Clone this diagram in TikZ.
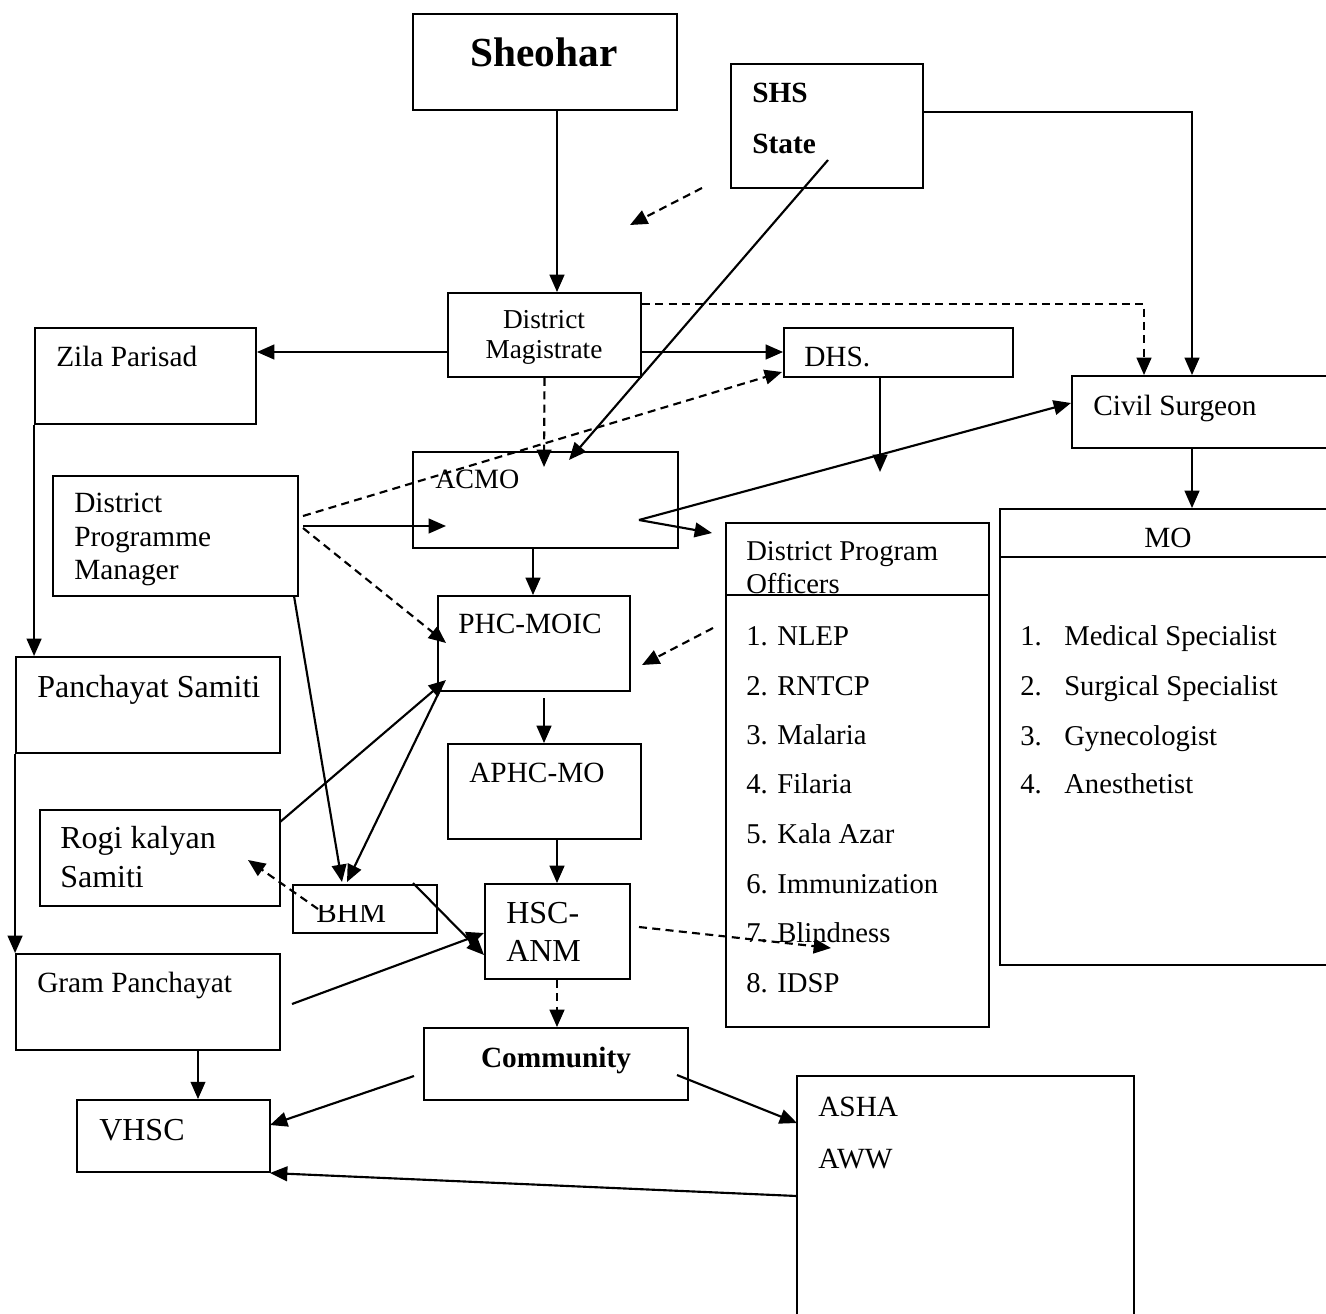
\documentclass[tikz,border=0pt]{standalone}
\usepackage{fontspec}
\setmainfont{Liberation Serif}
\usetikzlibrary{arrows.meta,fit}
\begin{document}
\begin{tikzpicture}[x=0.75pt,y=-0.75pt,
  box/.style={draw, line width=1.4pt, inner sep=0pt, rectangle},
  arr/.style={line width=1.6pt, -{Triangle[length=13pt,width=11pt]}},
  darr/.style={arr, dash pattern=on 6pt off 4pt},
  plain/.style={line width=1.4pt},
  txt/.style={anchor=base west, inner sep=0pt, font=\fontsize{22}{26}\selectfont},
  txtl/.style={txt, font=\fontsize{24}{28}\selectfont},
  txts/.style={txt, font=\fontsize{21.5}{25}\selectfont},
  txtb/.style={txt, font=\bfseries\fontsize{22}{26}\selectfont}
]
\useasboundingbox (0,0) rectangle (1326,1313);
\clip (0,0) rectangle (1326,1313);

% ---------- boxes ----------
\node[box, fit={(413,14) (677,110)}] (sheohar) {};
\node[box, fit={(731,64) (923,188)}] (shs) {};
\node[box, fit={(448,293) (641,377)}] (dm) {};
\node[box, fit={(35,328) (256,424)}] (zila) {};
\node[box, fit={(784,328) (1013,377)}] (dhs) {};
\node[box, fit={(1072,376) (1345,448)}] (civil) {};
\node[box, fit={(413,452) (678,548)}] (acmo) {};
\node[box, fit={(53,476) (298,596)}] (dpm) {};
\node[box, fit={(726,523) (989,1027)}] (dpo) {};
\node[box, fit={(1000,509) (1345,965)}] (mo) {};
\node[box, fit={(438,596) (630,691)}] (phc) {};
\node[box, fit={(16,657) (280,753)}] (ps) {};
\node[box, fit={(448,744) (641,839)}] (aphc) {};
\node[box, fit={(40,810) (280,906)}] (rogi) {};
\node[box, fit={(293,885) (437,933)}] (bhm) {};
\node[box, fit={(485,884) (630,979)}] (hsc) {};
\node[box, fit={(16,954) (280,1050)}] (gp) {};
\node[box, fit={(424,1028) (688,1100)}] (comm) {};
\node[box, fit={(77,1100) (270,1172)}] (vhsc) {};
\node[box, fit={(797,1076) (1134,1335)}] (asha) {};

% header separators
\coordinate (y595) at (0,595);
\coordinate (y557) at (0,557);
\draw[plain] (dpo.west |- y595) -- (dpo.east |- y595);
\draw[plain] (mo.west |- y557) -- (mo.east |- y557);

% ---------- texts ----------
\node[txt, anchor=base, font=\bfseries\fontsize{31}{36}\selectfont] (tsheohar) at (544,66) {Sheohar};
\node[txtb] (tshs) at (752,103) {SHS};
\node[txtb] (tstate) at (752,153) {State};
\node[txt, anchor=base, font=\fontsize{20.5}{24}\selectfont] (tdm1) at (544,328) {District};
\node[txt, anchor=base, font=\fontsize{20.5}{24}\selectfont] (tdm2) at (544,358) {Magistrate};
\node[txt] (tzila) at (56,366) {Zila Parisad};
\node[txt] (tdhs) at (804,366) {DHS.};
\node[txt] (tcivil) at (1093,415) {Civil Surgeon};
\node[txt, font=\fontsize{21}{25}\selectfont] (tacmo) at (435,488) {ACMO};
\node[txt] (tdpm1) at (74,512) {District};
\node[txt] (tdpm2) at (74,546) {Programme};
\node[txt] (tdpm3) at (74,579) {Manager};
\node[txts] (tdpo1) at (746,560) {District Program};
\node[txts] (tdpo2) at (746,593) {Officers};
\node[txt, anchor=base] (tmo) at (1168,547) {MO};
\node[txt] (tphc) at (458,633) {PHC-MOIC};
\node[txt] (taphc) at (469,782) {APHC-MO};
\node[txtl] (tps) at (37,697) {Panchayat Samiti};
\node[txtl] (trogi1) at (60,848) {Rogi kalyan};
\node[txtl] (trogi2) at (60,887) {Samiti};
\begin{scope}
  \clip (293,905) rectangle (437,933);
  \node[txt, font=\fontsize{23}{27}\selectfont] (tbhm) at (316,922) {BHM};
\end{scope}
\node[txtl] (thsc1) at (506,923) {HSC-};
\node[txtl] (thsc2) at (506,961) {ANM};
\node[txt] (tgp) at (37,992) {Gram Panchayat};
\node[txtl] (tvhsc) at (99,1140) {VHSC};
\node[txtb, anchor=base] (tcomm) at (556,1067) {Community};
\node[txt] (tasha) at (818,1116) {ASHA};
\node[txt] (taww) at (818,1168) {AWW};

% DPO list
\node[txts] (l1) at (746,645) {1. NLEP};
\node[txts] (l2) at (746,695) {2. RNTCP};
\node[txts] (l3) at (746,744) {3. Malaria};
\node[txts] (l4) at (746,793) {4. Filaria};
\node[txts] (l5) at (746,843) {5. Kala Azar};
\node[txts] (l6) at (746,893) {6. Immunization};
\node[txts] (l7) at (746,942) {7. Blindness};
\node[txts] (l8) at (746,992) {8. IDSP};

% MO list
\node[txts] (m1n) at (1020,645) {1.};
\node[txts] (m1) at (1064,645) {Medical Specialist};
\node[txts] (m2n) at (1020,695) {2.};
\node[txts] (m2) at (1064,695) {Surgical Specialist};
\node[txts] (m3n) at (1020,745) {3.};
\node[txts] (m3) at (1064,745) {Gynecologist};
\node[txts] (m4n) at (1020,793) {4.};
\node[txts] (m4) at (1064,793) {Anesthetist};

% ---------- helper coordinates ----------
\coordinate (x557) at (557,0);
\coordinate (x1192) at (1192,0);
\coordinate (x1144) at (1144,0);
\coordinate (x880) at (880,0);
\coordinate (x533) at (533,0);
\coordinate (x544) at (544,0);
\coordinate (x198) at (198,0);
\coordinate (y112) at (0,112);
\coordinate (y304) at (0,304);
\coordinate (y352) at (0,352);

\coordinate (fa) at (702,188);
\coordinate (fb) at (630,225);
\coordinate (shsin) at (828,160);
\coordinate (acmoin) at (569,460);
\coordinate (acmoin2) at (544,467);
\coordinate (dhsdown) at (880,472);
\coordinate (dpmo1) at (303,516);
\coordinate (dhscorner) at (782,372);
\coordinate (dpmo2) at (303,526);
\coordinate (acmoin3) at (446,526);
\coordinate (dpmo3) at (303,528);
\coordinate (phcin1) at (446,643);
\coordinate (vpt) at (639,520);
\coordinate (civin) at (1071,403);
\coordinate (dpoin) at (712,533);
\coordinate (dpmb) at (294,596);
\coordinate (bhmt1) at (342,882);
\coordinate (phcb) at (441,688);
\coordinate (bhmt2) at (347,882);
\coordinate (rogir) at (280,822);
\coordinate (phcin2) at (446,680);
\coordinate (bhmin) at (318,909);
\coordinate (rogiin) at (248,860);
\coordinate (phcs) at (544,698);
\coordinate (bhmr) at (413,883);
\coordinate (hscl1) at (484,955);
\coordinate (gpr) at (292,1004);
\coordinate (hscl2) at (484,933);
\coordinate (hscr) at (639,927);
\coordinate (blind) at (831,948);
\coordinate (dpol) at (713,628);
\coordinate (phcr) at (642,665);
\coordinate (comml) at (414,1076);
\coordinate (vhscr1) at (270,1125);
\coordinate (commr) at (677,1075);
\coordinate (ashal) at (797,1123);
\coordinate (ashal2) at (797,1196);
\coordinate (vhscr2) at (270,1173);

% ---------- connectors ----------
\draw[arr] (sheohar.south -| x557) -- (dm.north -| x557);
\draw[arr] (shs.east |- y112) -| (civil.north -| x1192);
\draw[darr] (fa) -- (fb);
\draw[arr] (shsin) -- (acmoin);
\draw[arr] (dm.west |- y352) -- (zila.east |- y352);
\draw[arr] (dm.east |- y352) -- (dhs.west |- y352);
\draw[darr] (dm.east |- y304) -| (civil.north -| x1144);
\draw[darr] (dm.south) -- (acmoin2);
\draw[arr] (dhs.south -| x880) -- (dhsdown);
\draw[darr] (dpmo1) -- (dhscorner);
\draw[arr] (dpmo2) -- (acmoin3);
\draw[darr] (dpmo3) -- (phcin1);
\draw[arr] (acmo.south -| x533) -- (phc.north -| x533);
\draw[arr] (vpt) -- (civin);
\draw[arr] (vpt) -- (dpoin);
\draw[arr] (civil.south -| x1192) -- (mo.north -| x1192);
\draw[arr] (zila.south west) -- (ps.north -| zila.south west);
\draw[arr] (ps.south west) -- (gp.north west);
\draw[arr] (dpmb) -- (bhmt1);
\draw[arr] (phcb) -- (bhmt2);
\draw[arr] (rogir) -- (phcin2);
\draw[darr] (bhmin) -- (rogiin);
\draw[arr] (phcs) -- (aphc.north -| x544);
\draw[arr] (aphc.south -| x557) -- (hsc.north -| x557);
\draw[arr] (bhmr) -- (hscl1);
\draw[arr] (gpr) -- (hscl2);
\draw[darr] (hscr) -- (blind);
\draw[darr] (dpol) -- (phcr);
\draw[darr] (hsc.south -| x557) -- (comm.north -| x557);
\draw[arr] (gp.south -| x198) -- (vhsc.north -| x198);
\draw[arr] (comml) -- (vhscr1);
\draw[arr] (commr) -- (ashal);
\draw[arr] (ashal2) -- (vhscr2);
\end{tikzpicture}
\end{document}
